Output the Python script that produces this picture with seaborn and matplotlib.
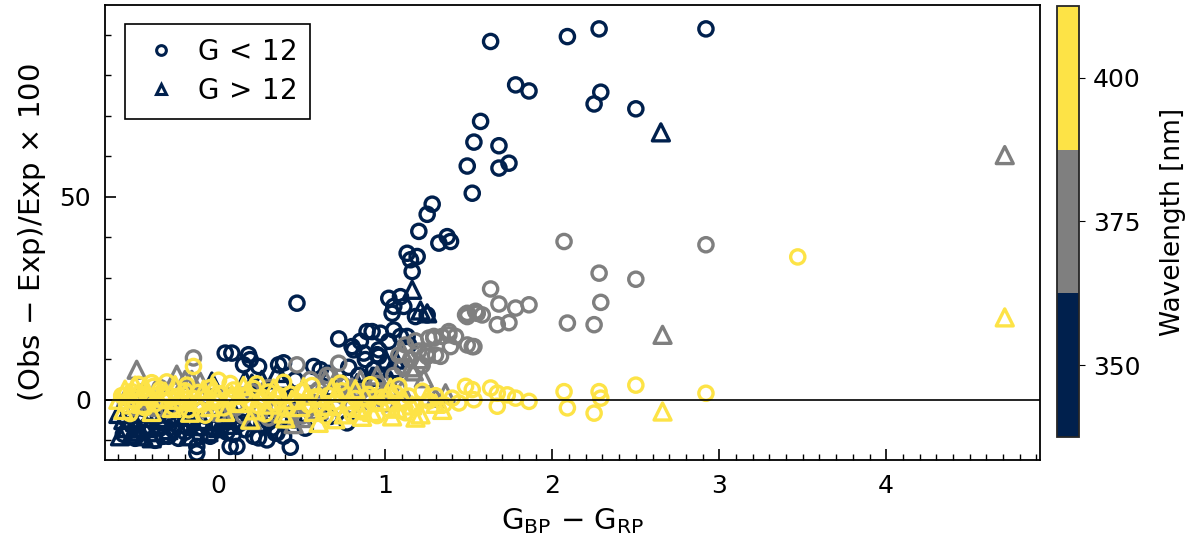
import numpy as np
import pandas as pd
import matplotlib
matplotlib.use("Agg")
import matplotlib.pyplot as plt
from matplotlib.colors import ListedColormap, BoundaryNorm
from matplotlib.lines import Line2D
from matplotlib.ticker import MultipleLocator
import seaborn as sns

# --- Data (x = G_BP - G_RP, y = residual in %) ---
# 350 nm, G < 12 (circles)
x_350_bright = [1.63, 2.09, 2.28, 2.92, 1.78, 1.86, 2.29, 2.25, 2.50, 1.57, 1.53, 1.68, 1.49, 1.68, 1.74,
                1.52, 1.28, 1.25, 1.20, 1.37, 1.32, 1.39, 1.13, 1.19, 1.15, 1.16, 1.02, 1.09, 1.05, 1.04,
                1.11, 1.18, 1.25, 0.89, 0.97, 1.05, 1.09, 1.13, 0.92, 1.14, 0.81, 0.87, 0.95, 0.80, 0.85,
                0.96, 1.02, 0.96, 0.88, 0.47, 0.72, 0.04, 0.08, 0.18, 0.19, 0.15, 0.24, 0.36, 0.39, 0.46,
                0.57, 0.61, 0.66, 0.78, 0.84, 0.93, 1.00,
                -0.52, -0.45, -0.40, -0.35, -0.30, -0.25, -0.20, -0.15, -0.13, -0.13, -0.10, -0.05, 0.00,
                0.05, 0.07, 0.11, 0.06, 0.16, 0.24, 0.29, 0.34, 0.39, 0.43, 0.52, 0.67, 0.77, 0.12, 0.20,
                0.30, 0.45, -0.48, -0.55, -0.38, -0.28, -0.08, 0.21, 0.35,
                -0.57, -0.50, -0.43, -0.33, -0.27, -0.22, -0.17, -0.03, 0.02, 0.09, 0.14, -0.47, -0.36,
                -0.24, -0.11, 0.26, 0.32, 0.41]
y_350_bright = [88.3, 89.5, 91.4, 91.4, 77.6, 76.1, 75.8, 72.9, 71.7, 68.6, 63.5, 62.6, 57.6, 57.1, 58.3,
                50.9, 48.2, 45.7, 41.5, 40.2, 38.6, 39.0, 36.1, 35.3, 34.5, 31.6, 25.0, 25.4, 23.0, 21.3,
                23.0, 20.5, 20.9, 16.8, 16.4, 17.2, 15.6, 15.6, 16.8, 13.5, 12.3, 11.5, 11.1, 13.1, 14.4,
                12.3, 14.4, 10.7, 9.9, 23.8, 15.0, 11.5, 11.5, 11.1, 9.9, 8.6, 8.2, 8.6, 9.1, 4.9,
                8.2, 7.4, 6.5, 8.0, 6.0, 7.5, 5.5,
                -6.0, -8.0, -5.0, -7.0, -9.0, -6.0, -8.0, -5.0, -11.5, -13.1, -7.0, -9.0, -6.0,
                -8.0, -11.5, -11.5, -4.9, -7.4, -9.4, -9.9, -8.2, -9.0, -11.7, -7.0, -4.1, -5.7, -6.0, -5.0,
                -5.5, -5.0, -4.0, -5.0, -10.0, -4.5, -4.0, -9.0, -8.2,
                -8.5, -9.5, -6.5, -9.0, -7.5, -4.5, -6.5, -7.0, -4.5, -8.5, -5.5, -5.5, -4.0,
                -9.5, -9.0, -6.0, -7.0, -4.5]

# 350 nm, G > 12 (triangles)
x_350_faint = [2.65, 1.16, 1.25, 1.21, 1.06, 1.00, 0.92, 1.05, 0.16, 0.26, 0.35, 0.38, 0.44, -0.04, 0.20,
               0.69, 0.75, 0.83, 0.93, 1.01, 0.43,
               -0.59, -0.55, -0.50, -0.45, -0.42, -0.35, -0.30, -0.22, -0.18, -0.10, 0.00, 0.10, -0.60,
               0.06, -0.38, -0.26, -0.48, -0.14, -0.57, -0.52, -0.40, -0.32, -0.06, 0.04, -0.20]
y_350_faint = [65.9, 27.1, 21.3, 22.0, 9.9, 9.9, 5.7, 7.8, 4.9, 4.9, 6.6, 4.9, 1.6, 4.5, 4.0,
               3.3, 4.1, 4.1, 5.7, 5.7, 1.6,
               -9.0, -7.0, -5.5, -9.0, -7.0, -5.0, -7.5, -6.0, -9.0, -5.0, -7.0, -3.5, -3.5,
               -6.2, -8.0, -3.8, -7.8, -6.5, -5.0, -8.5, -9.5, -4.5, -8.0, -5.0, -4.2]

# 375 nm, G < 12 (circles)
x_375_bright = [2.07, 2.92, 2.28, 2.50, 1.63, 1.68, 1.78, 1.86, 1.49, 1.54, 1.58, 1.67, 1.74, 2.09, 2.25,
                2.29, 1.53, 1.29, 1.38, 1.39, 1.25, 1.48, 1.34, 1.42, 1.26, 1.52, 1.20, 1.15, 1.10, 1.22,
                1.30, 1.05, 0.95, 0.72, 0.47, -0.15, 1.49, 1.33, 1.25, 1.38, 1.29, 1.49, 1.55,
                0.25, 0.30, 0.35, 0.40, 0.45, 0.50, 0.55, -0.50, -0.40, -0.30, -0.20, -0.10, 0.00, 0.10,
                0.15, 0.60, 0.70, 0.80, 0.90, 1.00, 0.85, 0.75, 0.65, 0.60, 0.55, -0.45, -0.35, -0.30,
                -0.05, 0.05, 0.20, 0.30, 1.12, 1.18, 1.08]
y_375_bright = [39.0, 38.2, 31.2, 29.7, 27.3, 23.6, 22.6, 23.4, 20.5, 21.8, 20.9, 18.5, 19.0, 18.9, 18.5,
                24.0, 13.1, 15.2, 16.0, 13.1, 10.7, 20.9, 15.6, 15.6, 15.2, 13.1, 12.0, 10.0, 8.0, 8.5,
                11.0, 6.0, 4.0, 9.0, 8.6, 10.3, 13.5, 10.7, 11.5, 16.8, 15.6, 21.3, 21.3,
                -3.0, -4.5, -2.5, -5.0, -3.0, -4.0, -2.0, -2.0, -1.5, -2.5, -1.0, -2.5, -3.5, -2.0,
                -4.0, -1.0, -2.0, -1.5, -0.5, -1.0, 2.0, 3.5, 6.0, 2.5, 5.0, 2.0, 3.0, 1.0,
                2.5, 1.0, 2.0, 3.0, 13.5, 14.5, 11.0]

# 375 nm, G > 12 (triangles)
x_375_faint = [4.71, 2.66, -0.49, -0.25, -0.20, -0.16, -0.11, 0.64, 0.70, 1.23, 1.36, 1.10, 1.03, 0.99,
               0.80, 0.90, 1.15, 1.20, 1.10, 0.30, 0.45, 0.50, -0.55, 0.20, 0.60, 1.30, 0.95, 0.85,
               0.02, 0.38, -0.35, 1.17]
y_375_faint = [60.3, 16.0, 7.4, 6.2, 4.9, 4.9, 4.5, 4.9, 4.9, 5.3, 1.6, 2.5, 2.0, 2.3,
               3.0, 1.5, 8.0, 10.0, 12.0, -3.0, -6.0, -4.5, 1.0, -5.0, -2.5, 0.5, 6.0, 5.0,
               -3.0, -2.0, -1.8, 7.0]

# 400 nm, G < 12 (circles)
x_400_bright = [3.47, 2.50, 2.07, 2.28, 2.29, 2.09, 2.25, 2.92, 1.48, 1.63, 1.67, 1.73, 1.78, 1.86, 1.53,
                1.67, 1.52, -0.15, -0.39,
                -0.58, -0.55, -0.52, -0.50, -0.47, -0.44, -0.42, -0.38, -0.35, -0.33, -0.30, -0.27, -0.25,
                -0.22, -0.20, -0.18, -0.15, -0.12, -0.10, -0.07, -0.05, -0.02, 0.00, 0.03, 0.06, 0.09,
                0.12, 0.15, 0.18, 0.21, 0.24, 0.27, 0.30, 0.33, 0.36, 0.40, 0.43, 0.47, 0.50, 0.54,
                0.58, 0.62, 0.66, 0.70, 0.74, 0.78, 0.82, 0.86, 0.90, 0.94, 0.98, 1.02, 1.06, 1.10,
                1.14, 1.18, 1.22, 1.26, 1.30, 1.35, 1.40, 1.44, 0.64, 0.80, 1.12, -0.40, 0.00,
                -0.48, -0.31, -0.19, 0.07, 0.23, 0.39, 0.56, 0.73, 0.91, 1.08, -0.53, -0.08, 0.28, 0.95]
y_400_bright = [35.2, 3.6, 2.0, 2.0, 0.4, -2.0, -3.3, 1.6, 3.3, 2.9, 1.6, 1.2, 0.4, -0.4, 0.0,
                -1.6, 2.5, 8.2, 3.3,
                1.0, -1.5, 2.0, -0.5, 1.5, -2.0, 0.5, -1.0, 2.5, -0.2, 1.2, -1.8, 0.8,
                -0.8, 2.2, -2.5, 0.3, 1.8, -1.2, 0.6, 3.0, -0.5, 1.5, -2.0, 0.2, 2.4,
                -1.0, 1.0, -0.3, 2.8, -1.5, 0.5, 1.9, -0.8, 0.9, -2.2, 1.4, -0.4, 2.0, -1.3,
                0.7, -2.8, 1.1, -0.6, 2.2, -1.9, 0.3, -3.0, 1.3, -1.0, 0.6, -2.3, 1.6, -0.7,
                0.9, -1.6, 2.1, -0.3, 1.0, -1.2, 0.4, -0.8, -4.0, -3.6, -3.2, 4.2, 4.8,
                3.8, 4.4, 3.6, 4.0, 3.9, 4.3, 3.5, 4.1, 3.7, 3.4, -3.4, -3.8, -3.5, -3.9]

# 400 nm, G > 12 (triangles)
x_400_faint = [4.71, 2.66, 0.19, 0.60, 1.04, 1.34, -0.56,
               -0.60, -0.57, -0.54, -0.50, -0.46, -0.43, -0.40, -0.36, -0.32, -0.28, -0.24, -0.20,
               -0.17, -0.13, -0.09, -0.05, -0.01, 0.04, 0.08, 0.13, 0.17, 0.22, 0.26, 0.31, 0.35,
               0.39, 0.44, 0.49, 0.53, 0.57, 0.61, 0.66, 0.71, 0.75, 0.79, 0.84, 0.88, 0.92, 0.97,
               1.01, 1.07, 1.11, 1.16, 1.21, 1.25, 1.30, 0.40, 0.70, 0.86, 1.18,
               -0.44, -0.26, -0.03, 0.15, 0.33, 0.51, 0.68, 0.82, 1.03]
y_400_faint = [20.3, -2.9, -4.9, -5.7, -4.1, -2.5, 2.5,
               0.0, -2.5, 1.5, 3.5, -1.0, 1.0, -3.0, 0.5, 2.0, -2.0, 0.0, 1.5,
               -3.2, -0.5, 2.5, -1.8, 0.8, -3.0, 1.2, -0.8, 2.0, -2.6, 0.4, -1.2, 1.6,
               -3.4, 0.0, -1.8, 1.0, -3.0, 0.5, -1.5, 1.8, -3.6, 0.0, -2.0, 1.0, -3.0, -0.4,
               1.4, -2.2, 0.2, -1.4, -3.6, 0.8, -1.0, -4.6, -4.8, -4.2, -4.4,
               3.2, 3.6, 3.0, 3.4, 2.8, 3.1, 2.9, 2.6, 3.0]

wavelengths = [350, 375, 400]
wl_colors = ["#00204D", "#7F7F7F", "#FDE346"]
cbar_ticks = [350, 375, 400]
mag_labels = ["G < 12", "G > 12"]

groups = [
    (x_350_bright, y_350_bright, 350, "G < 12"),
    (x_350_faint, y_350_faint, 350, "G > 12"),
    (x_375_bright, y_375_bright, 375, "G < 12"),
    (x_375_faint, y_375_faint, 375, "G > 12"),
    (x_400_bright, y_400_bright, 400, "G < 12"),
    (x_400_faint, y_400_faint, 400, "G > 12"),
]
frames = []
for gx, gy, wl, mag in groups:
    frames.append(pd.DataFrame({"bp_rp": gx, "resid": gy, "wl": wl, "mag": mag}))
df = pd.concat(frames, ignore_index=True)

# --- Style ---
sns.set_style("ticks")
plt.rcParams["font.family"] = ["DejaVu Sans"]
plt.rcParams["mathtext.fontset"] = "dejavusans"
plt.rcParams["xtick.direction"] = "in"
plt.rcParams["ytick.direction"] = "in"
plt.rcParams["text.color"] = "black"
plt.rcParams["axes.labelcolor"] = "black"
plt.rcParams["xtick.color"] = "black"
plt.rcParams["ytick.color"] = "black"

fig = plt.figure(figsize=(12, 5.5), dpi=100)
ax = fig.add_axes([0.0875, 0.164, 0.779, 0.827])
cax = fig.add_axes([0.881, 0.2055, 0.0183, 0.7836])

markers = {"G < 12": "o", "G > 12": "^"}
sizes = {"G < 12": 105, "G > 12": 150}
for wl, col in zip(wavelengths, wl_colors):
    for mag in mag_labels:
        sub = df[(df["wl"] == wl) & (df["mag"] == mag)]
        sns.scatterplot(data=sub, x="bp_rp", y="resid", ax=ax, marker=markers[mag],
                        s=sizes[mag], facecolor="none", edgecolor=col, linewidth=2.4,
                        legend=False)

ax.axhline(0, color="black", lw=1.2, zorder=5)

ax.set_xlim(-0.68, 4.92)
ax.set_ylim(-14.8, 97.3)
ax.set_xticks([0, 1, 2, 3, 4])
ax.set_yticks([0, 50])
ax.xaxis.set_minor_locator(MultipleLocator(0.1))
ax.yaxis.set_minor_locator(MultipleLocator(10))
ax.tick_params(which="major", length=8, width=1.2, labelsize=18, pad=10)
ax.tick_params(which="minor", length=4, width=1.0)
for sp in ax.spines.values():
    sp.set_linewidth(1.3)
    sp.set_color("black")

ax.set_xlabel(r"G$_{\mathrm{BP}}$ $-$ G$_{\mathrm{RP}}$", fontsize=21, labelpad=6)
ax.set_ylabel(r"(Obs $-$ Exp)/Exp $\times$ 100", fontsize=21, labelpad=8)

handles = [
    Line2D([], [], marker="o", ls="none", mfc="none", mec=wl_colors[0], mew=2.2, ms=7),
    Line2D([], [], marker="^", ls="none", mfc="none", mec=wl_colors[0], mew=2.2, ms=7),
]
leg = ax.legend(handles, [r"G$\,<\,$12", r"G$\,>\,$12"], loc="upper left", fontsize=20,
                frameon=True, fancybox=False, edgecolor="black", framealpha=1,
                borderpad=0.5, handletextpad=0.5, labelspacing=0.4, handlelength=1.6,
                borderaxespad=0, bbox_to_anchor=(0.021, 0.958))
leg.get_frame().set_linewidth(1.2)

# --- Discrete colourbar ---
cmap = ListedColormap(wl_colors)
norm = BoundaryNorm([337.5, 362.5, 387.5, 412.5], cmap.N)
sm = plt.cm.ScalarMappable(norm=norm, cmap=cmap)
cb = fig.colorbar(sm, cax=cax, ticks=cbar_ticks)
cb.set_label("Wavelength [nm]", fontsize=19, labelpad=14)
cb.ax.tick_params(labelsize=18, length=4, direction="out", pad=6)
cb.outline.set_linewidth(1.3)
cb.ax.minorticks_off()

fig.savefig("out.png", dpi=100)
